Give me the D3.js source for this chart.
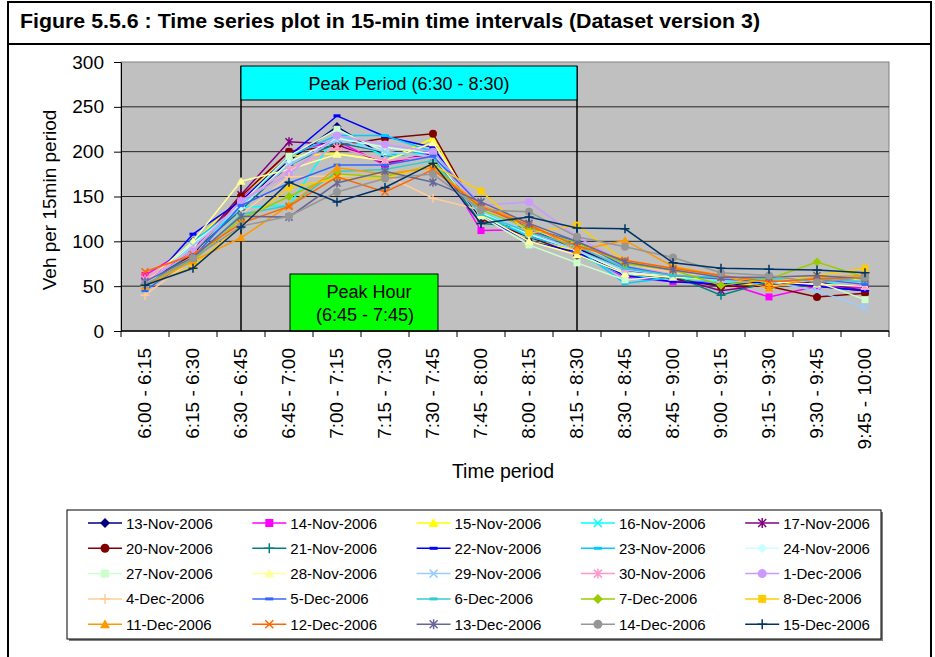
<!DOCTYPE html>
<html>
<head>
<meta charset="utf-8">
<script src="https://cdn.jsdelivr.net/npm/d3@7"></script>
<style>
  body { margin: 0; background: #fff; }
  svg { display: block; font-family: "Liberation Sans", Arial, sans-serif; }
</style>
</head>
<body>
<svg id="chart" width="935" height="657"></svg>
<script>
// time intervals on the x axis
const periods = ["6:00 - 6:15", "6:15 - 6:30", "6:30 - 6:45", "6:45 - 7:00", "7:00 - 7:15",
  "7:15 - 7:30", "7:30 - 7:45", "7:45 - 8:00", "8:00 - 8:15", "8:15 - 8:30", "8:30 - 8:45",
  "8:45 - 9:00", "9:00 - 9:15", "9:15 - 9:30", "9:30 - 9:45", "9:45 - 10:00"];

const yTicks = [0, 50, 100, 150, 200, 250, 300];

const days = ["13-Nov-2006", "14-Nov-2006", "15-Nov-2006", "16-Nov-2006", "17-Nov-2006",
  "20-Nov-2006", "21-Nov-2006", "22-Nov-2006", "23-Nov-2006", "24-Nov-2006",
  "27-Nov-2006", "28-Nov-2006", "29-Nov-2006", "30-Nov-2006", "1-Dec-2006",
  "4-Dec-2006", "5-Dec-2006", "6-Dec-2006", "7-Dec-2006", "8-Dec-2006",
  "11-Dec-2006", "12-Dec-2006", "13-Dec-2006", "14-Dec-2006", "15-Dec-2006"];

// vehicles per 15 min, one row per day
const volumes = [
  [52, 100, 140, 190, 228, 195, 200, 125, 105, 92, 70, 60, 50, 55, 50, 45],
  [62, 95, 148, 200, 212, 185, 200, 112, 113, 88, 60, 55, 55, 38, 50, 48],
  [55, 98, 150, 195, 198, 190, 215, 130, 100, 90, 65, 60, 55, 50, 55, 58],
  [50, 92, 138, 140, 220, 195, 200, 135, 105, 85, 62, 58, 55, 52, 55, 50],
  [55, 90, 152, 211, 208, 187, 198, 130, 110, 95, 68, 60, 45, 52, 55, 45],
  [55, 85, 150, 200, 207, 215, 220, 125, 105, 85, 65, 58, 50, 50, 38, 42],
  [50, 88, 135, 185, 210, 200, 195, 120, 115, 90, 70, 62, 40, 55, 60, 55],
  [48, 108, 145, 195, 240, 217, 205, 128, 100, 88, 62, 55, 52, 55, 50, 45],
  [47, 100, 140, 195, 218, 218, 200, 130, 105, 92, 53, 60, 58, 55, 60, 55],
  [50, 98, 138, 188, 215, 205, 198, 132, 108, 90, 65, 62, 58, 55, 58, 55],
  [52, 95, 142, 195, 225, 200, 195, 128, 96, 76, 57, 62, 60, 58, 55, 35],
  [54, 100, 167, 180, 197, 190, 210, 130, 100, 85, 64, 60, 58, 55, 52, 50],
  [52, 95, 140, 185, 213, 200, 195, 135, 110, 90, 68, 62, 58, 55, 45, 26],
  [58, 90, 145, 180, 205, 190, 195, 138, 115, 95, 70, 65, 58, 55, 58, 50],
  [55, 88, 145, 175, 218, 208, 200, 140, 144, 105, 75, 65, 60, 58, 60, 55],
  [40, 80, 130, 172, 173, 174, 148, 135, 115, 95, 75, 65, 60, 60, 58, 55],
  [45, 82, 140, 165, 185, 185, 195, 140, 115, 100, 72, 62, 58, 55, 58, 52],
  [50, 80, 130, 140, 178, 180, 190, 130, 110, 95, 70, 62, 60, 58, 58, 55],
  [52, 78, 125, 150, 175, 172, 185, 135, 115, 98, 75, 68, 51, 58, 77, 60],
  [50, 72, 118, 160, 170, 170, 185, 156, 109, 118, 78, 70, 62, 54, 62, 70],
  [50, 78, 104, 140, 182, 175, 182, 140, 120, 90, 101, 72, 62, 48, 60, 62],
  [66, 85, 120, 139, 172, 155, 180, 138, 118, 95, 79, 70, 62, 55, 58, 60],
  [55, 82, 128, 127, 165, 178, 166, 144, 120, 100, 77, 68, 60, 60, 62, 58],
  [52, 81, 117, 128, 155, 170, 175, 135, 133, 105, 94, 82, 65, 62, 54, 60],
  [51, 70, 116, 166, 144, 160, 187, 120, 127, 115, 114, 76, 70, 69, 68, 65]
];

const colors = ["#000080", "#FF00FF", "#FFFF00", "#00FFFF", "#800080",
  "#800000", "#008080", "#0000FF", "#00CCFF", "#CCFFFF",
  "#CCFFCC", "#FFFF99", "#99CCFF", "#FF99CC", "#CC99FF",
  "#FFCC99", "#3366FF", "#33CCCC", "#99CC00", "#FFCC00",
  "#FF9900", "#FF6600", "#666699", "#969696", "#003366"];

const markers = ["diamond", "square", "triangle", "x", "star",
  "circle", "plus", "dash", "dash", "diamond",
  "square", "triangle", "x", "star", "circle",
  "plus", "dash", "dash", "diamond", "square",
  "triangle", "x", "star", "circle", "plus"];

const svg = d3.select('#chart');

const plot = { left: 121, right: 889, top: 62, bottom: 331 };

const x = d3.scaleBand().domain(periods).range([plot.left, plot.right]);
const cx = d => x(d) + x.bandwidth() / 2;
const y = d3.scaleLinear().domain([0, 300]).range([plot.bottom, plot.top]);

// figure frame and title bar
svg.append('rect')
  .attr('x', 8).attr('y', 2).attr('width', 923).attr('height', 680)
  .attr('fill', 'none').attr('stroke', '#000').attr('stroke-width', 2);
svg.append('line')
  .attr('x1', 8).attr('x2', 931).attr('y1', 44).attr('y2', 44)
  .attr('stroke', '#000').attr('stroke-width', 2);
svg.append('text')
  .attr('x', 20).attr('y', 28)
  .attr('font-size', 20).attr('font-weight', 'bold')
  .attr('textLength', 740).attr('lengthAdjust', 'spacingAndGlyphs')
  .text('Figure 5.5.6 : Time series plot in 15-min time intervals (Dataset version 3)');

// plot area
svg.append('rect')
  .attr('x', plot.left).attr('y', plot.top)
  .attr('width', plot.right - plot.left).attr('height', plot.bottom - plot.top)
  .attr('fill', '#C0C0C0').attr('stroke', '#808080');

svg.append('g')
  .selectAll('line')
  .data(yTicks.filter(d => d > 0 && d < 300))
  .enter().append('line')
  .attr('x1', plot.left).attr('x2', plot.right)
  .attr('y1', d => y(d)).attr('y2', d => y(d))
  .attr('stroke', '#222').attr('stroke-width', 1);

// peak period marker lines
const p0 = cx(periods[2]), p1 = cx(periods[9]);
svg.selectAll('.peakline')
  .data([p0, p1])
  .enter().append('line')
  .attr('x1', d => d).attr('x2', d => d)
  .attr('y1', 66).attr('y2', plot.bottom)
  .attr('stroke', '#000').attr('stroke-width', 1.5);

// series lines and markers
const line = d3.line().x((d, i) => cx(periods[i])).y(d => y(d));

function markerPath(type, s) {
  const h = s / 2;
  switch (type) {
    case 'diamond': return `M0,${-h - 1}L${h + 1},0L0,${h + 1}L${-h - 1},0Z`;
    case 'square': return `M${-h},${-h}h${s}v${s}h${-s}Z`;
    case 'triangle': return `M0,${-h - 1}L${h + 1},${h}L${-h - 1},${h}Z`;
    case 'x': return `M${-h},${-h}L${h},${h}M${-h},${h}L${h},${-h}`;
    case 'star': return `M${-h},${-h}L${h},${h}M${-h},${h}L${h},${-h}M0,${-h - 1}V${h + 1}`;
    case 'plus': return `M${-h - 1},0H${h + 1}M0,${-h - 1}V${h + 1}`;
    case 'dash': return `M${-h},-1.5h${s}v3h${-s}Z`;
    default: return '';
  }
}

function drawMarker(g, type, color, s) {
  if (type === 'circle') {
    g.append('circle').attr('r', s / 2 + 0.5).attr('fill', color);
  } else if (type === 'x' || type === 'star' || type === 'plus') {
    g.append('path').attr('d', markerPath(type, s))
      .attr('fill', 'none').attr('stroke', color).attr('stroke-width', 1.5);
  } else {
    g.append('path').attr('d', markerPath(type, s)).attr('fill', color);
  }
}

const series = svg.append('g')
  .selectAll('g')
  .data(volumes)
  .enter().append('g');

series.append('path')
  .attr('d', d => line(d))
  .attr('fill', 'none')
  .attr('stroke', (d, i) => colors[i])
  .attr('stroke-width', 1.5);

series.each(function(vals, i) {
  const g = d3.select(this);
  vals.forEach((v, j) => {
    const m = g.append('g').attr('transform', `translate(${cx(periods[j])},${y(v)})`);
    drawMarker(m, markers[i], colors[i], 7);
  });
});

// peak boxes
const pp = svg.append('g');
pp.append('rect')
  .attr('x', p0).attr('y', 66).attr('width', p1 - p0).attr('height', 34)
  .attr('fill', '#00FFFF').attr('stroke', '#000').attr('stroke-width', 1);
pp.append('text')
  .attr('x', (p0 + p1) / 2).attr('y', 90)
  .attr('text-anchor', 'middle').attr('font-size', 18)
  .text('Peak Period (6:30 - 8:30)');

const h0 = cx(periods[3]) + 1, h1 = cx(periods[6]) + 5;
const ph = svg.append('g');
ph.append('rect')
  .attr('x', h0).attr('y', 274).attr('width', h1 - h0).attr('height', plot.bottom - 274)
  .attr('fill', '#00FF00').attr('stroke', '#000').attr('stroke-width', 1);
ph.append('text')
  .attr('x', (h0 + h1) / 2 + 5).attr('y', 298)
  .attr('text-anchor', 'middle').attr('font-size', 18)
  .text('Peak Hour');
ph.append('text')
  .attr('x', (h0 + h1) / 2 + 1).attr('y', 321)
  .attr('text-anchor', 'middle').attr('font-size', 18)
  .text('(6:45 - 7:45)');

// axes
const yAxis = svg.append('g')
  .attr('transform', `translate(${plot.left},0)`)
  .call(d3.axisLeft(y).tickValues(yTicks).tickSize(7).tickSizeOuter(0).tickPadding(10));
yAxis.select('.domain').attr('stroke', '#000');
yAxis.selectAll('text').attr('font-size', 19).attr('fill', '#000')
  .attr('font-family', '"Liberation Sans", Arial, sans-serif');

svg.append('line')
  .attr('x1', plot.left).attr('x2', plot.right)
  .attr('y1', plot.bottom).attr('y2', plot.bottom)
  .attr('stroke', '#000').attr('stroke-width', 1.5);

svg.append('g')
  .selectAll('line')
  .data(periods.map(p => x(p)).concat([plot.right]))
  .enter().append('line')
  .attr('x1', d => d).attr('x2', d => d)
  .attr('y1', plot.bottom).attr('y2', plot.bottom + 6)
  .attr('stroke', '#000');

svg.append('g')
  .selectAll('text')
  .data(periods)
  .enter().append('text')
  .attr('transform', d => `translate(${cx(d) + 6},${plot.bottom + 17}) rotate(-90)`)
  .attr('text-anchor', 'end')
  .attr('font-size', 19)
  .text(d => d);

svg.append('text')
  .attr('transform', `translate(56,200) rotate(-90)`)
  .attr('text-anchor', 'middle')
  .attr('font-size', 19)
  .text('Veh per 15min period');

svg.append('text')
  .attr('x', 503).attr('y', 478)
  .attr('text-anchor', 'middle')
  .attr('font-size', 19.5)
  .text('Time period');

// legend
const legend = svg.append('g');
legend.append('rect')
  .attr('x', 69).attr('y', 512).attr('width', 814).attr('height', 129)
  .attr('fill', '#808080');
legend.append('rect')
  .attr('x', 67).attr('y', 510).attr('width', 814).attr('height', 129)
  .attr('fill', '#fff').attr('stroke', '#000');

const items = legend.selectAll('.item')
  .data(days)
  .enter().append('g')
  .attr('transform', (d, i) => `translate(${88 + (i % 5) * 164.3},${523 + Math.floor(i / 5) * 25.3})`);

items.append('line')
  .attr('x1', 0).attr('x2', 34)
  .attr('stroke', (d, i) => colors[i]).attr('stroke-width', 1.5);
items.each(function(d, i) {
  const m = d3.select(this).append('g').attr('transform', 'translate(17,0)');
  drawMarker(m, markers[i], colors[i], 8);
});
items.append('text')
  .attr('x', 38).attr('y', 5.5)
  .attr('font-size', 15)
  .text(d => d);
</script>
</body>
</html>
